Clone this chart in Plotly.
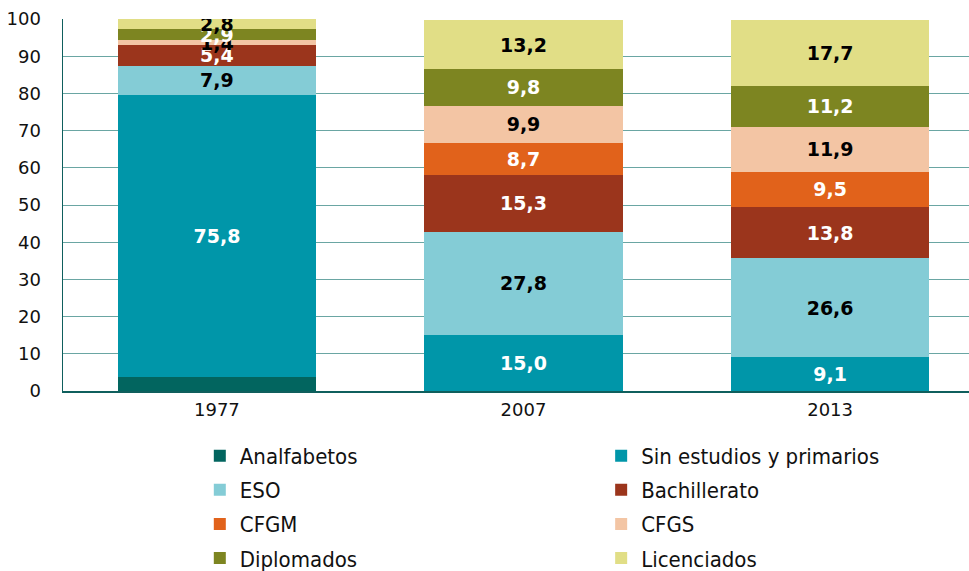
import plotly.graph_objects as go

years = ["1977", "2007", "2013"]
series_names = ["Analfabetos", "Sin estudios y primarios", "ESO", "Bachillerato",
                "CFGM", "CFGS", "Diplomados", "Licenciados"]
analfabetos = [3.8, 0.0, 0.0]
sin_estudios = [75.8, 15.0, 9.1]
eso = [7.9, 27.8, 26.6]
bachillerato = [5.4, 15.3, 13.8]
cfgm = [0.0, 8.7, 9.5]
cfgs = [1.4, 9.9, 11.9]
diplomados = [2.9, 9.8, 11.2]
licenciados = [2.8, 13.2, 17.7]
y_ticks = [0, 10, 20, 30, 40, 50, 60, 70, 80, 90, 100]

values = [analfabetos, sin_estudios, eso, bachillerato, cfgm, cfgs, diplomados, licenciados]
colors = ["#02655f", "#0096a9", "#84ccd6", "#9b351c", "#e1621b", "#f3c5a4", "#7d8521", "#e1de86"]
text_colors = [None, "white", "black", "white", "white", "black", "white", "black"]
show_labels = [False, True, True, True, True, True, True, True]

fig = go.Figure()
for i, (name, vals) in enumerate(zip(series_names, values)):
    if show_labels[i]:
        txt = [f"{v:.1f}".replace(".", ",") for v in vals]
    else:
        txt = ["" for _ in vals]
    fig.add_trace(go.Bar(
        x=years, y=vals, name=name,
        marker=dict(color=colors[i], line=dict(width=0)),
        text=txt, textposition="inside", insidetextanchor="middle",
        constraintext="none",
        textfont=dict(family="DejaVu Sans", size=19, color=text_colors[i] or "white", weight="bold"),
        width=0.646,
        legend="legend" if i % 2 == 0 else "legend2",
        legendgroup=f"g{i}",
        hoverinfo="skip",
    ))

legend_common = dict(
    orientation="v", traceorder="grouped", tracegroupgap=2.5,
    font=dict(family="DejaVu Sans Condensed, DejaVu Sans", size=22, color="#111111"),
    bgcolor="rgba(0,0,0,0)", yanchor="top", xanchor="left", y=-0.118,
)

fig.update_layout(
    width=969, height=571,
    margin=dict(l=63, r=0, t=19, b=180, autoexpand=False),
    barmode="stack",
    plot_bgcolor="white", paper_bgcolor="white",
    uniformtext=dict(minsize=19, mode="show"),
    showlegend=True,
    legend=dict(x=0.151, **legend_common),
    legend2=dict(x=0.594, **legend_common),
    xaxis=dict(
        type="category", range=[-0.502, 2.453],
        showgrid=False, showline=True, linecolor="#0f5f5d", linewidth=1.5,
        ticks="", ticklabelstandoff=2,
        tickfont=dict(family="DejaVu Sans", size=18, color="#111111"),
        fixedrange=True,
    ),
    yaxis=dict(
        range=[0, 100], tickvals=y_ticks,
        showgrid=True, gridcolor="#6aa6a3", gridwidth=1,
        showline=True, linecolor="#0f5f5d", linewidth=1.5,
        zeroline=False, ticks="", ticklabelstandoff=17,
        tickfont=dict(family="DejaVu Sans", size=18, color="#111111"),
        fixedrange=True,
    ),
)

fig.write_html(
    "out.html",
    config={"displayModeBar": False, "staticPlot": True},
    post_script="document.body.style.margin='0';document.body.style.overflow='hidden';",
)
